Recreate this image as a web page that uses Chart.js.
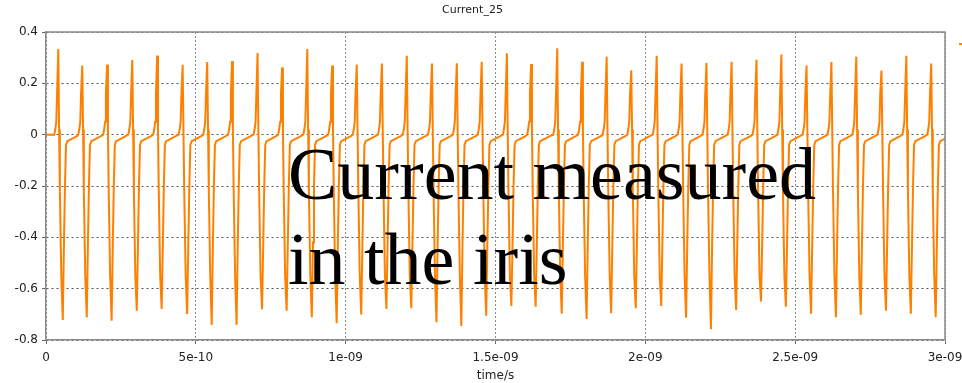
<!DOCTYPE html>
<html>
<head>
<meta charset="utf-8">
<title>Current_25</title>
<script src="https://cdn.jsdelivr.net/npm/chart.js@4.4.1/dist/chart.umd.min.js"></script>
<style>
  html, body { margin: 0; padding: 0; background: #fff; }
  #wrap { position: relative; width: 962px; height: 383px; overflow: hidden; }
  #note {
    position: absolute; left: 288px; top: 132px;
    font-family: 'Liberation Serif', 'Times New Roman', serif;
    font-size: 74px; line-height: 85px; color: #000;
    white-space: nowrap; pointer-events: none;
  }
  #legendStub { position: absolute; left: 959px; top: 43px; width: 6px; height: 2px; background: #ff8000; }
</style>
</head>
<body>
<div id="wrap">
  <canvas id="lineChart" width="962" height="383"></canvas>
  <div id="note">Current measured<br>in the iris</div>
  <div id="legendStub"></div>
</div>
<script>
// values

var xTickLabels = ["0", "5e-10", "1e-09", "1.5e-09", "2e-09", "2.5e-09", "3e-09"];
var yTickLabels = ["0.4", "0.2", "0", "-0.2", "-0.4", "-0.6", "-0.8"];

// time of each positive spike (s)
var peakTimes = [
  0.041e-9, 0.121e-9, 0.204e-9, 0.288e-9, 0.371e-9, 0.456e-9, 0.538e-9, 0.621e-9, 0.706e-9,
  0.788e-9, 0.872e-9, 0.955e-9, 1.037e-9, 1.121e-9, 1.204e-9, 1.288e-9, 1.371e-9, 1.454e-9,
  1.538e-9, 1.619e-9, 1.706e-9, 1.789e-9, 1.871e-9, 1.953e-9, 2.038e-9, 2.121e-9, 2.204e-9,
  2.288e-9, 2.371e-9, 2.454e-9, 2.538e-9, 2.621e-9, 2.704e-9, 2.788e-9, 2.871e-9, 2.954e-9
];
// top of each spike
var peakValues = [
  0.334, 0.269, 0.273, 0.291, 0.308, 0.272, 0.283, 0.287, 0.318,
  0.262, 0.334, 0.269, 0.273, 0.277, 0.307, 0.277, 0.278, 0.284,
  0.317, 0.275, 0.337, 0.284, 0.304, 0.251, 0.307, 0.277, 0.279,
  0.284, 0.292, 0.312, 0.269, 0.283, 0.304, 0.250, 0.307, 0.277
];
// bottom of each negative swing
var troughValues = [
  -0.722, -0.711, -0.725, -0.686, -0.679, -0.699, -0.741, -0.741, -0.680,
  -0.686, -0.711, -0.735, -0.701, -0.679, -0.676, -0.731, -0.745, -0.705,
  -0.667, -0.670, -0.698, -0.718, -0.696, -0.676, -0.667, -0.713, -0.758,
  -0.683, -0.650, -0.670, -0.698, -0.711, -0.702, -0.686, -0.698, -0.711
];
// one pulse as read from the first spike: offset from spike time (s) and level
var shapeOffsets = [-1.33e-11, -1.0e-11, -0.67e-11, -0.4e-11, 0, 0.27e-11, 0.53e-11, 1.0e-11,
                    1.5e-11, 1.9e-11, 2.23e-11, 2.57e-11, 3.0e-11, 4.67e-11, 6.33e-11];
var shapeLevels = [0, 0.02, 0.05, 0.16, "peak", 0.02, -0.22, -0.55,
                   "trough", -0.42, -0.2, -0.04, -0.025, -0.015, -0.005];

var points = [{x: 0, y: 0}];
for (var i = 0; i < peakTimes.length; i++) {
  for (var j = 0; j < shapeOffsets.length; j++) {
    var lv = shapeLevels[j];
    if (lv === "peak") lv = peakValues[i];
    if (lv === "trough") lv = troughValues[i];
    points.push({x: peakTimes[i] + shapeOffsets[j], y: lv});
  }
}

// top and right edges of the plot box
var frame = {
  id: 'frame',
  afterDatasetsDraw: function(chart) {
    var a = chart.chartArea, c = chart.ctx;
    c.save();
    c.strokeStyle = '#8a8a8a';
    c.lineWidth = 1.5;
    c.beginPath();
    c.moveTo(a.left, a.top);
    c.lineTo(a.right, a.top);
    c.lineTo(a.right, a.bottom);
    c.stroke();
    c.restore();
  }
};

var font12 = {family: 'DejaVu Sans', size: 12};

var ctxL = document.getElementById("lineChart").getContext('2d');
var myLineChart = new Chart(ctxL, {
  type: 'line',
  data: {
    datasets: [{
      label: "Current_25",
      data: points,
      borderColor: '#ff8000',
      backgroundColor: 'rgba(0, 0, 0, 0)',
      borderWidth: 2,
      pointRadius: 0,
      tension: 0,
      fill: false
    }]
  },
  options: {
    responsive: false,
    animation: false,
    layout: { padding: { left: 0, right: 17, top: 0, bottom: 0 } },
    plugins: {
      legend: { display: false },
      tooltip: { enabled: false },
      title: {
        display: true,
        text: 'Current_25',
        color: '#222',
        font: {family: 'DejaVu Sans', size: 11, weight: 'normal'},
        padding: { top: 4, bottom: 14.8 }
      }
    },
    scales: {
      x: {
        type: 'linear',
        min: 0,
        max: 3e-9,
        afterFit: function(scale) {
          scale.height = 43;
          scale.paddingLeft = 0;
          scale.paddingRight = 0;
        },
        title: { display: true, text: 'time/s', color: '#222', font: font12, padding: 0 },
        ticks: {
          stepSize: 5e-10,
          autoSkip: false,
          maxRotation: 0,
          padding: 7,
          color: '#222',
          font: font12,
          callback: function(v) { return xTickLabels[Math.round(v / 5e-10)]; }
        },
        grid: { color: '#8c8c8c', tickColor: '#666', tickLength: 4, tickBorderDash: [] },
        border: { color: '#8a8a8a', width: 1.5, dash: [2, 2] }
      },
      y: {
        min: -0.8,
        max: 0.4,
        afterFit: function(scale) {
          scale.width = 46;
          scale.paddingTop = 0;
          scale.paddingBottom = 0;
        },
        ticks: {
          stepSize: 0.2,
          padding: 4,
          color: '#222',
          font: font12,
          callback: function(v) { return yTickLabels[Math.round((0.4 - v) / 0.2)]; }
        },
        grid: { color: '#555', tickColor: '#666', tickLength: 4, tickBorderDash: [] },
        border: { color: '#8a8a8a', width: 1.5, dash: [2, 3] }
      }
    }
  },
  plugins: [frame]
});
</script>
</body>
</html>
